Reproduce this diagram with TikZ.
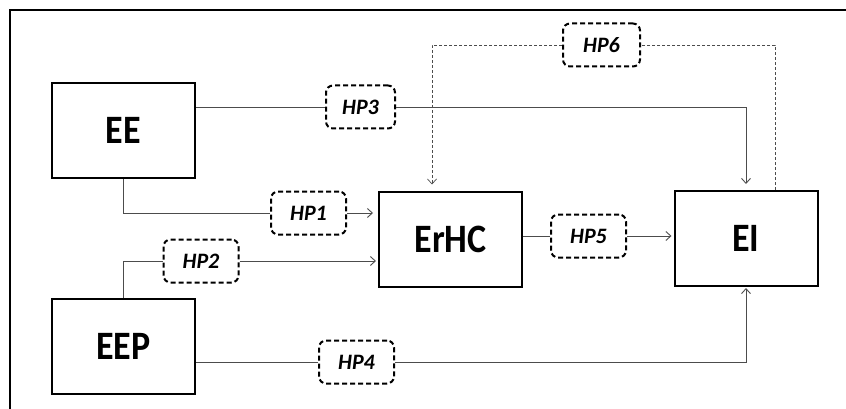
\documentclass[tikz,border=0pt]{standalone}
\usepackage{fontspec}
\setmainfont{Carlito}
\usetikzlibrary{shapes, arrows, arrows.meta, fit, calc, positioning}

\begin{document}
\begin{tikzpicture}[x=1pt, y=-1pt,
    block/.style={draw, line width=2pt, fill=white, inner sep=0pt,
        minimum width=143pt, minimum height=95pt,
        font=\bfseries\fontsize{36}{40}\selectfont},
    hpbox/.style={draw, line width=2pt, dash pattern=on 5pt off 3pt,
        rounded corners=7pt, fill=white, inner sep=0pt,
        minimum width=75pt, minimum height=43pt,
        font=\bfseries\itshape\fontsize{22}{24}\selectfont},
    link/.style={draw=black!70, line width=0.9pt},
    >={Straight Barb[length=5pt, width=9pt]}]
    \useasboundingbox (0,0) rectangle (846,409);
    \draw[line width=2pt] (846,10) -- (10,10) -- (10,409);

    % main blocks
    \node[block] (ee) at (123.5,130.5) {\scalebox{1}[1.12]{EE}};
    \node[block] (eep) at (123.5,346.5) {\scalebox{1}[1.12]{EEP}};
    \node[block] (erhc) at (450.5,239) {\scalebox{1}[1.12]{ErHC}};
    \node[block] (ei) at (746,238.5) {\scalebox{1}[1.12]{EI}};

    % hypotheses
    \node[hpbox, minimum width=69pt] (hp3) at (360.5,107) {HP3};
    \node[hpbox] (hp1) at (308.5,213) {HP1};
    \node[hpbox] (hp2) at (201,261) {HP2};
    \node[hpbox] (hp5) at (588.5,236) {HP5};
    \node[hpbox] (hp4) at (356.5,362) {HP4};
    \node[hpbox, minimum width=77pt] (hp6) at (601.5,45) {HP6};

    \coordinate (ei6) at ($(ei.north)+(29,0)$);
    \coordinate (erhc6) at ($(erhc.north)+(-18.5,0)$);

    % links
    \draw[link] (ee.east |- hp3) -- (hp3.west);
    \draw[link, ->, shorten >=6pt] (hp3.east) -| (ei.north);
    \draw[link] (ee.south) |- (hp1.west);
    \draw[link, ->, shorten >=5pt] (hp1.east) -- (erhc.west |- hp1);
    \draw[link] (eep.north) |- (hp2.west);
    \draw[link, ->, shorten >=2pt] (hp2.east) -- (erhc.west |- hp2);
    \draw[link] (erhc.east |- hp5) -- (hp5.west);
    \draw[link, ->, shorten >=2pt] (hp5.east) -- (ei.west |- hp5);
    \draw[link] (eep.east |- hp4) -- (hp4.west);
    \draw[link, ->, shorten >=1pt] (hp4.east) -| (ei.south);
    \draw[link, densely dashed, line width=0.7pt] (ei6) |- (hp6.east);
    \draw[link, densely dashed, line width=0.7pt, ->, shorten >=6pt] (hp6.west) -| (erhc6);
\end{tikzpicture}
\end{document}
